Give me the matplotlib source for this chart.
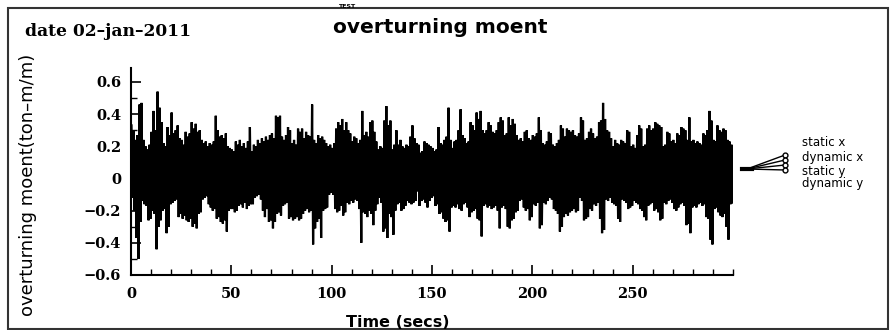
import numpy as np
import matplotlib
matplotlib.use("Agg")
import matplotlib.pyplot as plt
from matplotlib.lines import Line2D
from matplotlib.patches import Rectangle
from matplotlib.ticker import MultipleLocator

# ---- data (one upper peak and one lower trough per second) ----
peaks = [
    0.33, 0.30, 0.24, 0.27, 0.46, 0.47, 0.24, 0.20, 0.18, 0.21,
    0.29, 0.42, 0.30, 0.54, 0.44, 0.35, 0.22, 0.20, 0.32, 0.27,
    0.41, 0.28, 0.30, 0.33, 0.25, 0.24, 0.21, 0.29, 0.26, 0.28,
    0.35, 0.31, 0.34, 0.29, 0.30, 0.24, 0.22, 0.23, 0.20, 0.22,
    0.21, 0.23, 0.39, 0.30, 0.26, 0.27, 0.25, 0.28, 0.20, 0.19,
    0.18, 0.17, 0.23, 0.21, 0.24, 0.20, 0.22, 0.19, 0.23, 0.32,
    0.17, 0.21, 0.20, 0.24, 0.22, 0.25, 0.23, 0.26, 0.24, 0.27,
    0.28, 0.25, 0.39, 0.38, 0.39, 0.26, 0.24, 0.27, 0.32, 0.30,
    0.22, 0.24, 0.21, 0.31, 0.29, 0.31, 0.25, 0.29, 0.27, 0.26,
    0.46, 0.24, 0.22, 0.27, 0.25, 0.26, 0.24, 0.22, 0.20, 0.21,
    0.19, 0.22, 0.31, 0.35, 0.33, 0.37, 0.30, 0.35, 0.30, 0.28,
    0.23, 0.26, 0.25, 0.22, 0.24, 0.42, 0.27, 0.29, 0.26, 0.35,
    0.36, 0.29, 0.23, 0.18, 0.20, 0.19, 0.36, 0.45, 0.33, 0.36,
    0.18, 0.21, 0.30, 0.21, 0.24, 0.20, 0.19, 0.21, 0.20, 0.26,
    0.33, 0.25, 0.22, 0.21, 0.16, 0.17, 0.23, 0.22, 0.21, 0.20,
    0.19, 0.17, 0.18, 0.32, 0.22, 0.21, 0.24, 0.26, 0.44, 0.24,
    0.19, 0.23, 0.24, 0.30, 0.43, 0.27, 0.25, 0.22, 0.23, 0.35,
    0.33, 0.30, 0.41, 0.37, 0.42, 0.30, 0.28, 0.30, 0.35, 0.33,
    0.29, 0.28, 0.30, 0.35, 0.38, 0.36, 0.27, 0.28, 0.38, 0.33,
    0.37, 0.34, 0.27, 0.24, 0.25, 0.23, 0.29, 0.30, 0.25, 0.24,
    0.27, 0.26, 0.28, 0.38, 0.30, 0.22, 0.21, 0.23, 0.29, 0.28,
    0.21, 0.20, 0.22, 0.24, 0.33, 0.31, 0.26, 0.31, 0.30, 0.29,
    0.30, 0.27, 0.26, 0.28, 0.38, 0.36, 0.24, 0.25, 0.29, 0.31,
    0.28, 0.25, 0.26, 0.35, 0.36, 0.47, 0.37, 0.30, 0.29, 0.25,
    0.20, 0.24, 0.22, 0.21, 0.24, 0.23, 0.22, 0.30, 0.29, 0.20,
    0.21, 0.19, 0.27, 0.33, 0.31, 0.20, 0.21, 0.31, 0.33, 0.30,
    0.31, 0.35, 0.34, 0.33, 0.32, 0.20, 0.21, 0.29, 0.28, 0.23,
    0.24, 0.22, 0.28, 0.27, 0.32, 0.31, 0.30, 0.24, 0.38, 0.23,
    0.24, 0.22, 0.23, 0.22, 0.21, 0.28, 0.27, 0.30, 0.42, 0.36,
    0.24, 0.23, 0.33, 0.30, 0.29, 0.31, 0.30, 0.24, 0.23, 0.21,
]
troughs = [
    -0.12, -0.20, -0.37, -0.50, -0.27, -0.14, -0.16, -0.17, -0.26, -0.25,
    -0.20, -0.22, -0.44, -0.30, -0.26, -0.20, -0.19, -0.34, -0.30, -0.16,
    -0.15, -0.14, -0.13, -0.24, -0.22, -0.25, -0.23, -0.26, -0.27, -0.25,
    -0.30, -0.28, -0.31, -0.22, -0.21, -0.13, -0.12, -0.11, -0.16, -0.18,
    -0.20, -0.19, -0.25, -0.24, -0.27, -0.28, -0.26, -0.33, -0.20, -0.19,
    -0.19, -0.21, -0.20, -0.17, -0.16, -0.18, -0.15, -0.19, -0.17, -0.16,
    -0.16, -0.12, -0.11, -0.10, -0.13, -0.20, -0.24, -0.19, -0.27, -0.26,
    -0.31, -0.27, -0.22, -0.21, -0.23, -0.17, -0.16, -0.15, -0.25, -0.24,
    -0.26, -0.25, -0.24, -0.26, -0.25, -0.22, -0.20, -0.19, -0.21, -0.20,
    -0.41, -0.31, -0.27, -0.25, -0.37, -0.20, -0.19, -0.18, -0.10, -0.09,
    -0.10, -0.19, -0.21, -0.20, -0.17, -0.23, -0.21, -0.15, -0.16, -0.14,
    -0.15, -0.13, -0.14, -0.19, -0.40, -0.21, -0.22, -0.24, -0.20, -0.22,
    -0.29, -0.20, -0.16, -0.12, -0.15, -0.33, -0.31, -0.37, -0.22, -0.24,
    -0.35, -0.20, -0.16, -0.15, -0.20, -0.19, -0.17, -0.14, -0.15, -0.16,
    -0.15, -0.14, -0.08, -0.17, -0.14, -0.13, -0.15, -0.18, -0.14, -0.12,
    -0.11, -0.17, -0.16, -0.22, -0.21, -0.25, -0.27, -0.26, -0.33, -0.18,
    -0.17, -0.18, -0.16, -0.19, -0.20, -0.16, -0.15, -0.18, -0.24, -0.21,
    -0.20, -0.19, -0.25, -0.26, -0.36, -0.17, -0.16, -0.18, -0.17, -0.19,
    -0.18, -0.17, -0.20, -0.31, -0.18, -0.17, -0.19, -0.30, -0.31, -0.26,
    -0.25, -0.21, -0.20, -0.14, -0.13, -0.18, -0.20, -0.19, -0.26, -0.24,
    -0.16, -0.17, -0.15, -0.31, -0.29, -0.15, -0.16, -0.14, -0.12, -0.13,
    -0.19, -0.20, -0.22, -0.33, -0.30, -0.24, -0.22, -0.23, -0.21, -0.20,
    -0.19, -0.21, -0.20, -0.12, -0.14, -0.26, -0.25, -0.24, -0.19, -0.20,
    -0.16, -0.17, -0.15, -0.25, -0.34, -0.32, -0.13, -0.14, -0.12, -0.15,
    -0.16, -0.17, -0.25, -0.27, -0.13, -0.14, -0.15, -0.19, -0.18, -0.17,
    -0.14, -0.15, -0.16, -0.19, -0.20, -0.24, -0.26, -0.17, -0.16, -0.15,
    -0.20, -0.19, -0.21, -0.26, -0.25, -0.15, -0.16, -0.14, -0.13, -0.15,
    -0.19, -0.20, -0.18, -0.16, -0.15, -0.17, -0.29, -0.28, -0.34, -0.18,
    -0.17, -0.18, -0.16, -0.15, -0.17, -0.16, -0.24, -0.25, -0.38, -0.41,
    -0.19, -0.18, -0.21, -0.23, -0.24, -0.22, -0.30, -0.38, -0.16, -0.15,
]
xticks = [0, 50, 100, 150, 200, 250]
xtick_labels = ["0", "50", "100", "150", "200", "250"]
yticks = [-0.6, -0.4, -0.2, 0.0, 0.2, 0.4, 0.6]
ytick_labels = ["\u22120.6", "\u22120.4", "\u22120.2", "0", "0.2", "0.4", "0.6"]
legend_labels = ["static x", "dynamic x", "static y", "dynamic y"]

# ---- build the time series (peak then trough within each second) ----
n = len(peaks)
sec = np.arange(n)
t = np.empty(2 * n)
y = np.empty(2 * n)
t[0::2] = sec + 0.25
t[1::2] = sec + 0.75
y[0::2] = peaks
y[1::2] = troughs

W, H = 891, 330
fig = plt.figure(figsize=(W / 100, H / 100), dpi=100)
fig.patch.set_facecolor("white")

def fx(px):
    return px / W

def fy(py):
    return 1 - py / H

ax = fig.add_axes([fx(131), fy(275), fx(733) - fx(131), fy(67.5) - fy(275)])
ax.plot(t, y, color="black", lw=1.6, solid_joinstyle="miter")
ax.set_xlim(0, 300)
ax.set_ylim(-0.6, 0.69)

for s in ["top", "right"]:
    ax.spines[s].set_visible(False)
for s in ["left", "bottom"]:
    ax.spines[s].set_linewidth(1.5)

ax.set_xticks(xticks)
ax.set_xticklabels(xtick_labels)
ax.set_yticks(yticks)
ax.set_yticklabels(ytick_labels)
ax.xaxis.set_minor_locator(MultipleLocator(10))
ax.yaxis.set_minor_locator(MultipleLocator(0.1))
ax.tick_params(which="major", direction="in", length=7, width=1.2, pad=7)
ax.tick_params(which="minor", direction="in", length=4, width=1.0)
ax.tick_params(axis="x", which="major", pad=9)
for lab in ax.get_xticklabels() + ax.get_yticklabels():
    lab.set_fontfamily("DejaVu Serif")
    lab.set_fontweight("bold")
    lab.set_fontsize(10.5)

# ---- texts ----
fig.text(fx(333), fy(33), "overturning moent", fontsize=14.5, fontweight="bold",
         family="DejaVu Sans", ha="left", va="baseline")
fig.text(fx(338), fy(8), "TEST", fontsize=4.5, fontweight="bold",
         family="DejaVu Sans", ha="left", va="baseline")
fig.text(fx(25), fy(36), "date 02\u2013jan\u20132011", fontsize=12.3, fontweight="bold",
         family="DejaVu Serif", ha="left", va="baseline")
fig.text(fx(28), fy(185), "overturning moent(ton\u2013m/m)", fontsize=13,
         family="DejaVu Sans", rotation=90, ha="center", va="center")
fig.text(fx(398), fy(327), "Time (secs)", fontsize=11.5, fontweight="bold",
         family="DejaVu Sans", ha="center", va="baseline")

# ---- legend-like glyph and labels ----
ends_y = [155, 160, 165, 170]
for ey in ends_y:
    fig.add_artist(Line2D([fx(747), fx(785)], [fy(169), fy(ey)], color="black", lw=1.0))
    fig.add_artist(Line2D([fx(785)], [fy(ey)], marker="o", markersize=3.5,
                          markerfacecolor="white", markeredgecolor="black", lw=0))
fig.add_artist(Line2D([fx(742), fx(752)], [fy(169), fy(169)], color="black", lw=3))
label_y = [143, 157, 171, 184]
for lab, ly in zip(legend_labels, label_y):
    fig.text(fx(802), fy(ly), lab, fontsize=8.5, family="DejaVu Sans",
             ha="left", va="center")

# ---- outer frame ----
fig.add_artist(Rectangle((fx(8), fy(329)), fx(888) - fx(8), fy(8) - fy(329),
                         transform=fig.transFigure, fill=False, lw=1.5,
                         edgecolor="#333333"))

fig.savefig("out.png", dpi=100)
